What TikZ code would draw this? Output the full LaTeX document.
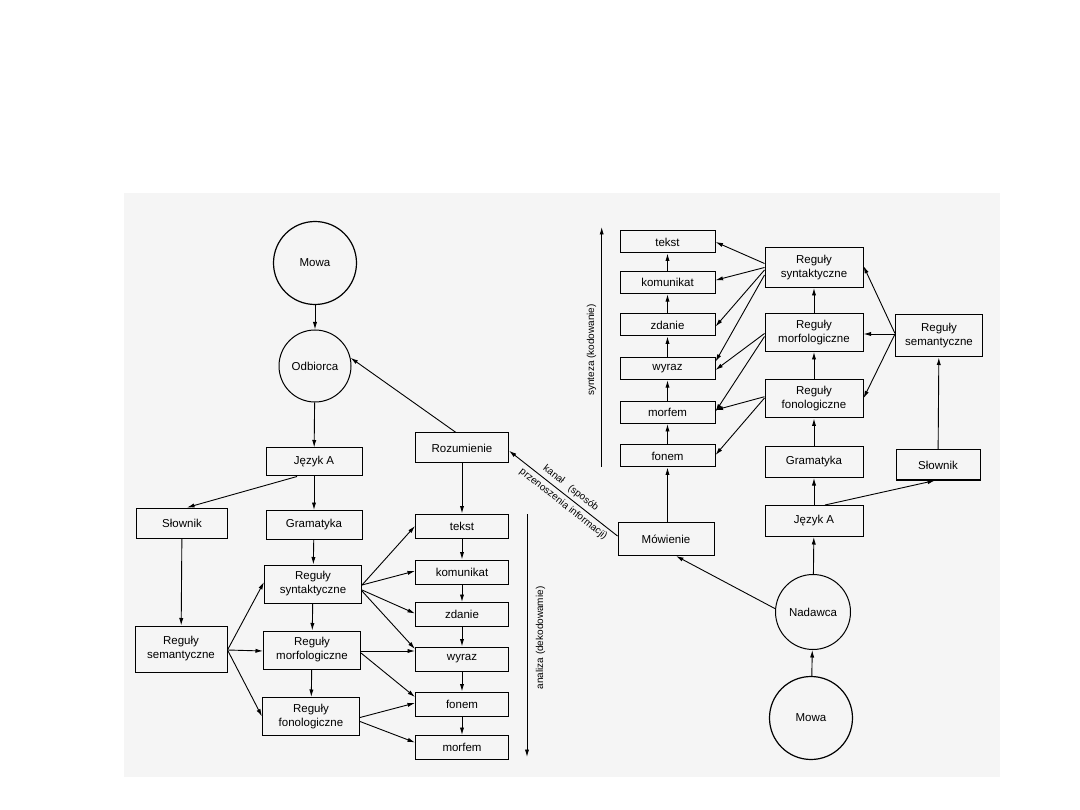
\documentclass[tikz,border=0pt]{standalone}
\usepackage{fontspec}
\setmainfont{Liberation Sans}
\usetikzlibrary{arrows.meta,positioning,calc}

\begin{document}
\begin{tikzpicture}[x=1pt,y=-1pt,font=\fontsize{11.5}{14}\selectfont,>={Latex[length=7.5pt,width=4.2pt]},
 unit/.style={draw,line width=1pt,minimum width=93pt,minimum height=24pt,inner sep=0pt},
 rule/.style={draw,line width=1pt,align=center,minimum width=97pt,minimum height=38pt,inner sep=0pt},
 blk/.style={draw,line width=1pt,minimum width=96pt,minimum height=29pt,inner sep=0pt},
 disc/.style={draw,circle,line width=1pt,inner sep=0pt},
 arr/.style={->,line width=.9pt},
 side/.style={font=\fontsize{10}{12}\selectfont}]

\useasboundingbox (0,0) rectangle (1080,810);
\fill[black!4] (124,193) rectangle (1000,777);

% odbiorca (analiza)
\node[disc,line width=1.2pt,minimum size=83pt] (mowaL) at (315,263) {Mowa};
\node[disc,minimum size=72pt] (odb) at (315,366) {Odbiorca};
\node[blk,minimum height=28pt] (jaL) at (314,462) {Język A};
\node[blk,minimum width=93pt,minimum height=30pt] (roz) at (462,448) {Rozumienie};
\node[blk,minimum width=91pt,minimum height=30pt] (slL) at (182,523) {Słownik};
\node[blk] (grL) at (314,525) {Gramatyka};
\node[rule] (syL) at (313,584) {Reguły\\syntaktyczne};
\node[rule] (moL) at (312,650) {Reguły\\morfologiczne};
\node[rule] (foL) at (311,716.5) {Reguły\\fonologiczne};
\node[rule,minimum width=92pt,minimum height=46pt] (seL) at (181,649) {Reguły\\semantyczne};

\node[unit] (tekL) at (462,526) {tekst};
\node[unit] (komL) at (462,572) {komunikat};
\node[unit] (zdL) at (462,614.5) {zdanie};
\node[unit] (wyL) at (462,659) {wyraz};
\node[unit] (fonL) at (462,704) {fonem};
\node[unit] (morL) at (462,747.5) {morfem};

\draw[arr] (mowaL) -- (odb);
\draw[arr] (odb) -- (jaL);
\draw[arr] ([xshift=-6pt]roz.north) -- (odb.13);
\draw[arr] ([xshift=-17pt]jaL.south) -- ([xshift=5pt]slL.north);
\draw[arr] (jaL) -- (grL);
\draw[arr] (roz) -- (tekL);
\draw[arr] (slL) -- (seL);
\draw[arr] (grL) -- (syL);
\draw[arr] (syL) -- (moL);
\draw[arr] (moL) -- (foL);
\draw[arr] ([yshift=-1pt]seL.east) -- ([yshift=2pt]syL.west);
\draw[arr] ([yshift=-1pt]seL.east) -- ([yshift=-1pt]moL.west);
\draw[arr] ([yshift=-1pt]seL.east) -- (foL.west);
\draw[arr] ([yshift=-1pt]syL.east) -- (tekL.west);
\draw[arr] ([yshift=-1pt]syL.east) -- ([yshift=1pt]komL.west);
\draw[arr] ([yshift=-6pt]syL.east) -- ([yshift=1pt]zdL.west);
\draw[arr] ([yshift=-7pt]syL.east) -- ([yshift=10pt]wyL.west);
\draw[arr] ([yshift=-1pt]moL.east) -- ([yshift=8pt]wyL.west);
\draw[arr] ([yshift=-3pt]moL.east) -- ([yshift=7pt]fonL.west);
\draw[arr] ([yshift=-1pt]foL.east) -- ([yshift=1pt]fonL.west);
\draw[arr] ([yshift=-5pt]foL.east) -- ([yshift=5pt]morL.west);
\foreach \a/\b in {tekL/komL,komL/zdL,zdL/wyL,wyL/fonL,fonL/morL}{\draw[arr] (\a) -- (\b);}

\coordinate (anTop) at (527,514);
\coordinate (anBot) at (527,757);
\draw[arr] (anTop) -- (anBot);
\node[side,rotate=90] (anLab) at (540.5,638) {analiza (dekodowamie)};

% nadawca (synteza)
\node[disc,line width=1.2pt,minimum size=83pt] (mowaR) at (811,718) {Mowa};
\node[disc,minimum size=75pt] (nad) at (813,612) {Nadawca};
\node[blk,minimum width=98pt,minimum height=31pt] (jaR) at (814,521) {Język A};
\node[blk,minimum width=98pt,minimum height=31pt] (grR) at (814,462) {Gramatyka};
\node[blk,minimum width=84pt,minimum height=30pt] (slR) at (938,465) {Słownik};
\node[blk,minimum width=96pt,minimum height=33pt] (mow) at (666,539) {Mówienie};
\node[rule,minimum width=98pt,minimum height=40pt] (syR) at (814,267.5) {Reguły\\syntaktyczne};
\node[rule,minimum width=98pt] (moR) at (814,332.5) {Reguły\\morfologiczne};
\node[rule,minimum width=98pt] (foR) at (814,399) {Reguły\\fonologiczne};
\node[rule,minimum width=87pt,minimum height=42pt] (seR) at (939,336) {Reguły\\semantyczne};

\node[unit,minimum width=95pt,minimum height=22pt] (tekR) at (667.5,242) {tekst};
\node[unit,minimum width=95pt,minimum height=22pt] (komR) at (667.5,282.7) {komunikat};
\node[unit,minimum width=95pt,minimum height=22pt] (zdR) at (667.5,325) {zdanie};
\node[unit,minimum width=95pt,minimum height=22pt] (wyR) at (667.5,368.7) {wyraz};
\node[unit,minimum width=95pt,minimum height=22pt] (morR) at (667.5,412.5) {morfem};
\node[unit,minimum width=95pt,minimum height=22pt] (fonR) at (667.5,456) {fonem};

\draw[arr] (mowaR) -- (nad);
\draw[arr] (nad) -- (jaR);
\draw[arr] (jaR) -- (grR);
\draw[arr] ([xshift=11pt]jaR.north) -- ([xshift=-3pt]slR.south);
\draw[arr] (nad.175) -- ([xshift=10pt]mow.south);
\draw[arr] (grR) -- (foR);
\draw[arr] (foR) -- (moR);
\draw[arr] (moR) -- (syR);
\draw[arr] (slR) -- (seR);
\draw[arr] (mow.north -| fonR.south) -- (fonR.south);
\foreach \a/\b in {fonR/morR,morR/wyR,wyR/zdR,zdR/komR,komR/tekR}{\draw[arr] (\a) -- (\b);}
\draw[arr] ([yshift=4pt]syR.west) -- (tekR.east);
\draw[arr] ([yshift=0pt]syR.west) -- ([yshift=2.5pt]komR.east);
\draw[arr] ([yshift=-2.5pt]syR.west) -- ([yshift=-1.5pt]zdR.east);
\draw[arr] ([yshift=-7.5pt]syR.west) -- ([yshift=7pt]wyR.east);
\draw[arr] ([yshift=-1pt]moR.west) -- ([yshift=-1.3pt]wyR.east);
\draw[arr] ([yshift=-4pt]moR.west) -- ([yshift=1pt]morR.east);
\draw[arr] ([yshift=2.3pt]foR.west) -- ([yshift=2.5pt]morR.east);
\draw[arr] ([yshift=1pt]foR.west) -- ([yshift=1pt]fonR.east);
\draw[arr] ([yshift=2.5pt]seR.west) -- ([yshift=1.5pt]syR.east);
\draw[arr] ([yshift=2pt]seR.west) -- ([yshift=-1.5pt]moR.east);
\draw[arr] ([yshift=2pt]seR.west) -- ([yshift=0.7pt]foR.east);

\coordinate (synBot) at (601.7,467);
\coordinate (synTop) at (601.7,227);
\draw[arr] (synBot) -- (synTop);
\node[side,rotate=90] (synLab) at (591.5,350) {synteza (kodowanie)};

% kanal
\draw[arr] ([yshift=3pt]mow.west) -- node[side,sloped,above,pos=.48,inner sep=3.5pt] {kanał\enspace\ (sposób}
 node[side,sloped,below,pos=.45,inner sep=3.5pt] {przenoszenia informacji)} ([yshift=-2.7pt]roz.east);

\end{tikzpicture}
\end{document}
